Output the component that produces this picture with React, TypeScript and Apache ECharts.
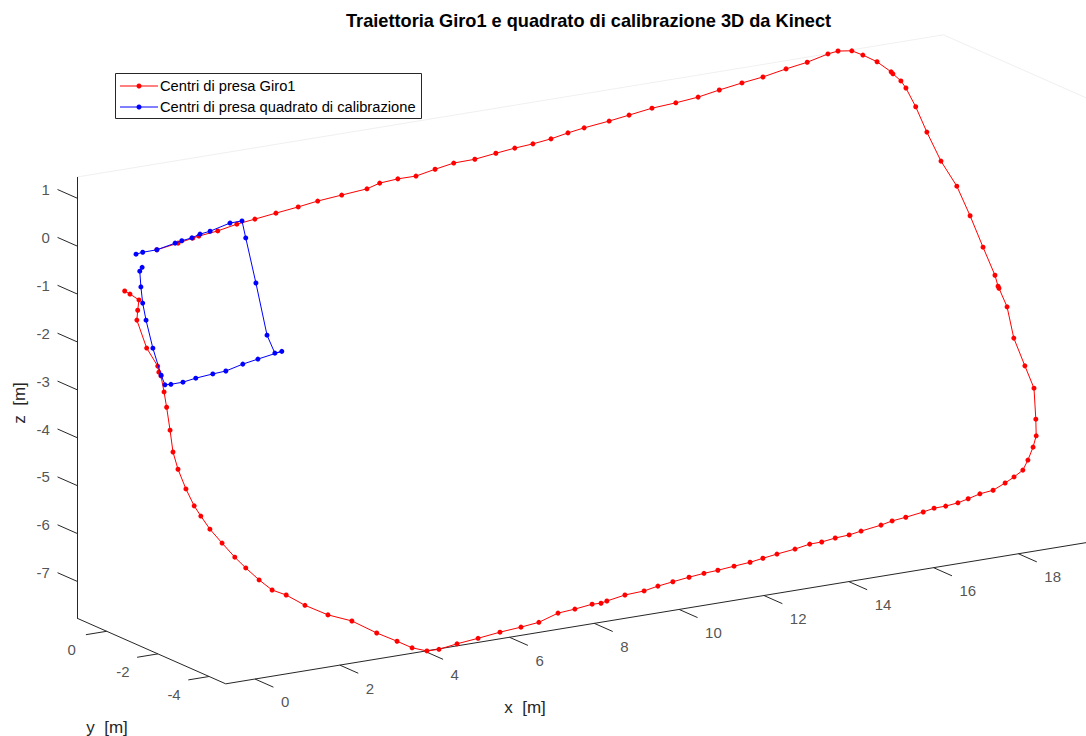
import React, { useEffect, useRef } from "react";
import * as echarts from "echarts";

// ---- Data (metres) ----
const giroX = [
  -0.67, -0.57, -0.4, -0.49, -0.57, -0.52, -0.38, -0.39, -0.37, -0.4,
  -0.43, -0.5, -0.57, -0.56, -0.5, -0.42, -0.33, -0.2, -0.01, 0.2,
  0.38, 0.61, 0.85, 1.14, 1.51, 1.98, 2.49, 2.99, 3.41, 3.71,
  4.03, 4.32, 4.77, 5.29, 5.83, 6.35, 6.79, 7.29, 7.7, 8.13,
  8.34, 8.49, 8.94, 9.41, 9.76, 10.13, 10.53, 10.9, 11.24, 11.64,
  12.03, 12.35, 12.7, 13.15, 13.52, 13.81, 14.14, 14.48, 14.78, 15.28,
  15.56, 15.9, 16.33, 16.61, 16.89, 17.19, 17.45, 17.75, 18.08, 18.4,
  18.64, 18.89, 19.07, 19.27, 19.41, 19.51, 19.66, 19.59, 19.51, 19.55,
  19.48, 19.47, 19.47, 19.37, 19.27, 19.15, 18.94, 18.8, 18.7, 18.59,
  18.52, 18.38, 18.35, 18.09, 17.81, 17.58, 17.26, 17.01, 16.48, 15.95,
  15.37, 14.85, 14.28, 13.75, 13.2, 12.62, 12.05, 11.55, 10.93, 10.53,
  10.1, 9.65, 9.21, 8.74, 8.22, 7.71, 7.24, 6.76, 6.32, 5.88,
  5.55, 4.93, 4.34, 3.85, 3.3, 2.78, 2.33, 1.85, 1.38, 1.23,
  0.86, 0.33,
];
const giroY = [
  -0.67, -0.71, -0.78, -0.88, -0.98, -1.28, -1.48, -1.54, -1.59, -1.76,
  -1.91, -2.16, -2.39, -2.57, -2.78, -2.97, -3.08, -3.22, -3.38, -3.53,
  -3.66, -3.8, -3.91, -3.98, -4.1, -4.22, -4.31, -4.45, -4.55, -4.64,
  -4.69, -4.68, -4.64, -4.6, -4.56, -4.52, -4.49, -4.41, -4.39, -4.35,
  -4.35, -4.33, -4.29, -4.26, -4.22, -4.19, -4.16, -4.13, -4.11, -4.08,
  -4.06, -4.03, -4.0, -3.96, -3.92, -3.91, -3.89, -3.87, -3.84, -3.79,
  -3.76, -3.73, -3.7, -3.66, -3.65, -3.63, -3.6, -3.56, -3.53, -3.47,
  -3.42, -3.35, -3.25, -3.12, -3.01, -2.83, -2.51, -2.27, -1.97, -1.64,
  -1.44, -1.42, -1.3, -1.0, -0.66, -0.34, -0.07, 0.25, 0.52, 0.72,
  0.8, 0.88, 0.9, 1.02, 1.11, 1.16, 1.17, 1.15, 1.08, 1.03,
  0.97, 0.93, 0.87, 0.82, 0.78, 0.75, 0.7, 0.65, 0.6, 0.57,
  0.52, 0.48, 0.46, 0.42, 0.38, 0.36, 0.31, 0.26, 0.24, 0.22,
  0.17, 0.13, 0.09, 0.04, 0.0, -0.04, -0.08, -0.13, -0.17, -0.18,
  -0.22, -0.27,
];
const giroZ = [
  -0.51, -0.58, -0.71, -0.89, -1.06, -1.58, -1.93, -2.04, -2.11, -2.4,
  -2.68, -3.09, -3.48, -3.8, -4.17, -4.49, -4.69, -4.95, -5.23, -5.52,
  -5.74, -5.99, -6.21, -6.34, -6.58, -6.82, -7.0, -7.29, -7.5, -7.66,
  -7.76, -7.77, -7.73, -7.7, -7.66, -7.64, -7.61, -7.51, -7.49, -7.46,
  -7.47, -7.45, -7.4, -7.39, -7.35, -7.32, -7.29, -7.27, -7.26, -7.24,
  -7.22, -7.19, -7.16, -7.13, -7.09, -7.09, -7.06, -7.05, -7.02, -6.98,
  -6.94, -6.92, -6.88, -6.85, -6.85, -6.83, -6.79, -6.74, -6.72, -6.63,
  -6.55, -6.46, -6.3, -6.09, -5.9, -5.61, -5.06, -4.64, -4.12, -3.55,
  -3.2, -3.16, -2.96, -2.43, -1.84, -1.28, -0.79, -0.24, 0.24, 0.6,
  0.74, 0.89, 0.93, 1.15, 1.31, 1.42, 1.46, 1.44, 1.36, 1.31,
  1.24, 1.2, 1.15, 1.09, 1.06, 1.04, 0.99, 0.95, 0.91, 0.87,
  0.82, 0.79, 0.77, 0.74, 0.7, 0.7, 0.65, 0.59, 0.6, 0.58,
  0.52, 0.49, 0.46, 0.42, 0.38, 0.34, 0.31, 0.25, 0.22, 0.2,
  0.16, 0.11,
];

const quadX = [
  -0.18, -0.01, 0.33, 0.79, 0.96, 1.21, 1.42, 1.67, 2.18, 2.47,
  2.45, 2.4, 2.33, 2.4, 2.57, 1.97, 1.59, 1.16, 0.84, 0.42,
  0.1, -0.19, -0.33, -0.36, -0.38, -0.36, -0.33, -0.27, -0.2, -0.12,
];
const quadY = [
  -0.3, -0.28, -0.27, -0.22, -0.2, -0.18, -0.15, -0.13, -0.06, -0.05,
  -0.23, -0.71, -1.26, -1.45, -1.44, -1.5, -1.54, -1.59, -1.61, -1.64,
  -1.67, -1.68, -1.68, -1.58, -1.29, -0.99, -0.81, -0.64, -0.48, -0.44,
];
const quadZ = [
  0.1, 0.11, 0.11, 0.17, 0.19, 0.21, 0.25, 0.27, 0.35, 0.35,
  0.04, -0.78, -1.73, -2.07, -2.06, -2.12, -2.16, -2.23, -2.24, -2.26,
  -2.29, -2.29, -2.28, -2.1, -1.6, -1.09, -0.78, -0.49, -0.21, -0.15,
];

// Axis limits and ticks
const X_LIM = [-0.69, 19.74];
const Y_LIM = [-4.65, 1.16];
const Z_LIM = [-7.77, 1.44];
const X_TICKS = [0, 2, 4, 6, 8, 10, 12, 14, 16, 18];
const Y_TICKS = [0, -2, -4];
const Z_TICKS = [1, 0, -1, -2, -3, -4, -5, -6, -7];

const TITLE = "Traiettoria Giro1 e quadrato di calibrazione 3D da Kinect";
const SERIES_NAMES = ["Centri di presa Giro1", "Centri di presa quadrato di calibrazione"];

// ---- Orthographic view (MATLAB-like camera) ----
const VIEW = {
  ox: 135.96,
  oy: 254.3,
  ex: [42.41, -6.96],
  ey: [-25.6, -11.3],
  ez: [0, -47.9],
};
function project(x: number, y: number, z: number): [number, number] {
  return [
    VIEW.ox + VIEW.ex[0] * x + VIEW.ey[0] * y + VIEW.ez[0] * z,
    VIEW.oy + VIEW.ex[1] * x + VIEW.ey[1] * y + VIEW.ez[1] * z,
  ];
}

const FONT = "'Liberation Sans', Arial, Helvetica, sans-serif";
const AXIS_COLOR = "#262626";

function buildOption() {
  const [xmin, xmax] = X_LIM;
  const [ymin, ymax] = Y_LIM;
  const [zmin, zmax] = Z_LIM;

  const giro = giroX.map((x, i) => project(x, giroY[i], giroZ[i]));
  const quad = quadX.map((x, i) => project(x, quadY[i], quadZ[i]));

  const axisSegs = [
    [project(xmin, ymax, zmin), project(xmin, ymax, zmax)],
    [project(xmin, ymax, zmin), project(xmin, ymin, zmin)],
    [project(xmin, ymin, zmin), project(xmax, ymin, zmin)],
  ];
  const tickSegs: [number, number][][] = [];
  X_TICKS.forEach((t) => tickSegs.push([project(t, ymin, zmin), project(t, ymin - 0.72, zmin)]));
  Y_TICKS.forEach((t) => tickSegs.push([project(xmin, t, zmin), project(xmin - 0.49, t, zmin)]));
  Z_TICKS.forEach((t) => tickSegs.push([project(xmin, ymax, t), project(xmin, ymax + 0.76, t)]));
  const boxSegs = [
    [project(xmin, ymax, zmax), project(xmax, ymax, zmax)],
    [project(xmax, ymax, zmax), project(xmax, ymin, zmax)],
  ];

  const tickLabelSeries = (
    pts: { value: [number, number]; name: string }[],
    pos: [number, number],
    align: string
  ) => ({
    type: "scatter",
    silent: true,
    symbol: "circle",
    symbolSize: 0.1,
    itemStyle: { color: "rgba(0,0,0,0)" },
    data: pts,
    z: 5,
    label: {
      show: true,
      position: pos,
      align,
      verticalAlign: "middle",
      formatter: "{b}",
      fontSize: 15,
      fontFamily: FONT,
      color: AXIS_COLOR,
    },
  });

  return {
    animation: false,
    backgroundColor: "#ffffff",
    title: {
      text: TITLE,
      left: 341,
      top: 7,
      textStyle: { fontSize: 18.2, fontWeight: "bold", color: "#000", fontFamily: FONT },
    },
    grid: { left: 0, right: 0, top: 0, bottom: 0 },
    xAxis: { type: "value", min: 0, max: 1086, show: false },
    yAxis: { type: "value", min: 0, max: 736, inverse: true, show: false },
    series: [
      {
        type: "lines",
        coordinateSystem: "cartesian2d",
        silent: true,
        data: boxSegs.map((c) => ({ coords: c })),
        lineStyle: { color: "#f0f0f0", width: 1, opacity: 1 },
        z: 1,
      },
      {
        type: "lines",
        coordinateSystem: "cartesian2d",
        silent: true,
        data: axisSegs.map((c) => ({ coords: c })),
        lineStyle: { color: AXIS_COLOR, width: 1, opacity: 1 },
        z: 2,
      },
      {
        type: "lines",
        coordinateSystem: "cartesian2d",
        silent: true,
        data: tickSegs.map((c) => ({ coords: c })),
        lineStyle: { color: AXIS_COLOR, width: 1, opacity: 1 },
        z: 2,
      },
      tickLabelSeries(
        X_TICKS.map((t) => ({ value: project(t, ymin, zmin), name: String(t) })),
        [26, 23],
        "left"
      ),
      tickLabelSeries(
        Y_TICKS.map((t) => ({ value: project(xmin, t, zmin), name: String(t) })),
        [-35, 18],
        "center"
      ),
      tickLabelSeries(
        Z_TICKS.map((t) => ({ value: project(xmin, ymax, t), name: String(t) })),
        [-27, -8.5],
        "right"
      ),
      {
        name: SERIES_NAMES[0],
        type: "line",
        data: giro,
        symbol: "circle",
        symbolSize: 5,
        showSymbol: true,
        lineStyle: { color: "#ff0000", width: 1 },
        itemStyle: { color: "#ff0000" },
        z: 10,
      },
      {
        name: SERIES_NAMES[1],
        type: "line",
        data: quad,
        symbol: "circle",
        symbolSize: 5,
        showSymbol: true,
        lineStyle: { color: "#0000ff", width: 1 },
        itemStyle: { color: "#0000ff" },
        z: 11,
      },
    ],
    graphic: [
      {
        type: "text",
        x: 525,
        y: 707,
        style: {
          text: "x  [m]",
          fontSize: 17,
          fontFamily: FONT,
          fill: AXIS_COLOR,
          textAlign: "center",
          textVerticalAlign: "middle",
        },
      },
      {
        type: "text",
        x: 107,
        y: 727,
        style: {
          text: "y  [m]",
          fontSize: 17,
          fontFamily: FONT,
          fill: AXIS_COLOR,
          textAlign: "center",
          textVerticalAlign: "middle",
        },
      },
      {
        type: "text",
        x: 19,
        y: 403,
        rotation: Math.PI / 2,
        style: {
          text: "z  [m]",
          fontSize: 17,
          fontFamily: FONT,
          fill: AXIS_COLOR,
          textAlign: "center",
          textVerticalAlign: "middle",
        },
      },
      {
        type: "group",
        z: 100,
        children: [
          {
            type: "rect",
            shape: { x: 115.5, y: 73.5, width: 306, height: 45 },
            style: { fill: "#ffffff", stroke: AXIS_COLOR, lineWidth: 1 },
          },
          {
            type: "line",
            shape: { x1: 120, y1: 86, x2: 158, y2: 86 },
            style: { stroke: "#ff0000", lineWidth: 1 },
          },
          { type: "circle", shape: { cx: 139, cy: 86, r: 2.5 }, style: { fill: "#ff0000" } },
          {
            type: "text",
            x: 160,
            y: 86,
            style: {
              text: SERIES_NAMES[0],
              fontSize: 14.7,
              fontFamily: FONT,
              fill: "#000",
              textAlign: "left",
              textVerticalAlign: "middle",
            },
          },
          {
            type: "line",
            shape: { x1: 120, y1: 107, x2: 158, y2: 107 },
            style: { stroke: "#0000ff", lineWidth: 1 },
          },
          { type: "circle", shape: { cx: 139, cy: 107, r: 2.5 }, style: { fill: "#0000ff" } },
          {
            type: "text",
            x: 160,
            y: 107,
            style: {
              text: SERIES_NAMES[1],
              fontSize: 14.7,
              fontFamily: FONT,
              fill: "#000",
              textAlign: "left",
              textVerticalAlign: "middle",
            },
          },
        ],
      },
    ],
  };
}

export default function App() {
  const ref = useRef<HTMLDivElement>(null);
  useEffect(() => {
    document.body.style.margin = "0";
    if (!ref.current) return;
    const chart = echarts.init(ref.current, null, { renderer: "svg" });
    chart.setOption(buildOption() as any);
    return () => chart.dispose();
  }, []);
  return <div ref={ref} style={{ width: 1086, height: 736, background: "#fff" }} />;
}
